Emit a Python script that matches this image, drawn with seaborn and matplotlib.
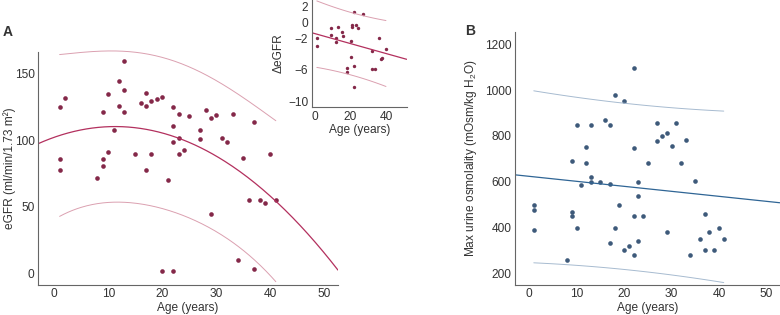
import numpy as np
import pandas as pd
import matplotlib
matplotlib.use("Agg")
import matplotlib.pyplot as plt
import seaborn as sns

# panel A: eGFR vs age
age_a = [1, 1, 1, 2, 8, 9, 9, 9, 10, 10, 11, 12, 12, 13, 13, 13, 15, 16, 17, 17, 17,
         18, 18, 19, 20, 20, 21, 22, 22, 22, 22, 23, 23, 23, 24, 25, 27, 27, 28, 29,
         29, 30, 31, 32, 33, 34, 35, 36, 37, 37, 38, 39, 40, 41]
egfr = [125, 86, 78, 132, 72, 121, 86, 81, 135, 91, 108, 145, 126, 160, 138, 121, 90,
        128, 136, 126, 78, 130, 90, 131, 133, 2, 70, 125, 111, 99, 2, 120, 102, 90,
        93, 118, 108, 101, 123, 117, 45, 119, 102, 99, 120, 10, 87, 55, 114, 3, 55,
        53, 90, 55]

# inset: change in eGFR
age_d = [1, 1, 9, 9, 12, 12, 13, 15, 16, 18, 18, 20, 20, 21, 21, 22, 22, 22, 23, 24,
         27, 32, 32, 34, 36, 37, 38, 40]
d_egfr = [-1.9, -2.9, -1.6, -0.7, -1.9, -2.4, -0.6, -1.2, -1.7, -5.8, -6.3, -2.3, -4.3,
          -0.3, -0.6, 1.3, -5.5, -8.2, -0.3, -0.7, 1.1, -3.6, -5.9, -5.9, -2.0, -4.6,
          -4.5, -3.3]

# panel B: max urine osmolality
age_b = [1, 1, 1, 8, 9, 9, 9, 10, 10, 11, 12, 12, 13, 13, 13, 15, 16, 17, 17, 17, 18,
         18, 19, 20, 20, 21, 22, 22, 22, 22, 23, 23, 23, 24, 25, 27, 27, 28, 29, 29,
         30, 31, 32, 33, 34, 35, 36, 37, 37, 38, 39, 40, 41]
osmo = [500, 477, 389, 258, 690, 469, 450, 848, 399, 584, 753, 683, 849, 621, 600, 600,
        868, 849, 592, 331, 980, 398, 500, 955, 300, 321, 1097, 749, 450, 282, 600,
        538, 341, 449, 682, 858, 778, 798, 814, 379, 755, 858, 680, 781, 282, 602, 348,
        459, 302, 380, 302, 398, 348]

RED_PT, RED_LN, RED_BAND = "#842849", "#b3305e", "#dba0b0"
BLU_PT, BLU_LN, BLU_BAND = "#3e5a7a", "#2f6595", "#a7bbd0"
TXT = "#333333"
Z90 = 1.645  # 90% prediction interval


def fit_bands(x, y, order, x_line, x_band, t=Z90):
    x = np.asarray(x, float)
    y = np.asarray(y, float)
    X = np.vander(x, order + 1)
    coef, *_ = np.linalg.lstsq(X, y, rcond=None)
    resid = y - X @ coef
    s = np.sqrt(resid @ resid / (len(x) - order - 1))
    xtx_inv = np.linalg.inv(X.T @ X)
    Xb = np.vander(x_band, order + 1)
    h = np.einsum("ij,jk,ik->i", Xb, xtx_inv, Xb)
    yb = Xb @ coef
    half = t * s * np.sqrt(1 + h)
    return np.vander(x_line, order + 1) @ coef, yb - half, yb + half


def style(ax):
    sns.despine(ax=ax)
    for sp in ("left", "bottom"):
        ax.spines[sp].set_color("#666666")
        ax.spines[sp].set_linewidth(0.8)
    ax.tick_params(direction="in", length=3.5, width=0.8, color="#666666",
                   labelsize=8.6, labelcolor=TXT, pad=2.5)
    ax.xaxis.label.set_color(TXT)
    ax.yaxis.label.set_color(TXT)


sns.set_style("white")
plt.rcParams["font.family"] = ["Liberation Sans", "DejaVu Sans"]
plt.rcParams["mathtext.default"] = "regular"

fig = plt.figure(figsize=(7.8, 3.15), dpi=100)

# ---- panel A
ax = fig.add_axes([0.0487, 0.0952, 0.3846, 0.7397])
xlim_a = (-3, 52.5)
xl = np.linspace(*xlim_a, 200)
xb = np.linspace(min(age_a), max(age_a), 200)
yl, lo, hi = fit_bands(age_a, egfr, 2, xl, xb)
ax.plot(xl, yl, color=RED_LN, lw=0.9)
ax.plot(xb, lo, color=RED_BAND, lw=0.7, clip_on=False)
ax.plot(xb, hi, color=RED_BAND, lw=0.7, clip_on=False)
sns.scatterplot(x=age_a, y=egfr, ax=ax, color=RED_PT, s=11, linewidth=0)
ax.set_xlim(*xlim_a)
ax.set_ylim(-8.8, 166.5)
ax.set_xticks([0, 10, 20, 30, 40, 50])
ax.set_yticks([0, 50, 100, 150])
ax.set_xlabel("Age (years)", fontsize=8.6, labelpad=1)
ax.set_ylabel("eGFR (ml/min/1.73 m\u00b2)", fontsize=8.6)
ax.yaxis.set_label_coords(-0.074, 0.5)
style(ax)
fig.text(0.004, 0.898, "A", fontsize=10, fontweight="bold", color=TXT, va="center")

# ---- inset
axi = fig.add_axes([0.3996, 0.660, 0.1218, 0.3397])
xlim_i = (-1.9, 51.7)
xl = np.linspace(*xlim_i, 100)
xb = np.linspace(min(age_d), max(age_d), 100)
yl, lo, hi = fit_bands(age_d, d_egfr, 1, xl, xb)
axi.plot(xl, yl, color=RED_LN, lw=0.9)
axi.plot(xb, lo, color=RED_BAND, lw=0.7)
axi.plot(xb, hi, color=RED_BAND, lw=0.7)
sns.scatterplot(x=age_d, y=d_egfr, ax=axi, color=RED_PT, s=6, linewidth=0)
axi.set_xlim(*xlim_i)
axi.set_ylim(-10.7, 2.85)
axi.set_xticks([0, 20, 40])
axi.set_yticks([2, 0, -2, -6, -10])
axi.set_xlabel("Age (years)", fontsize=8.6, labelpad=1)
axi.set_ylabel("\u0394eGFR", fontsize=8.6)
axi.yaxis.set_label_coords(-0.29, 0.5)
axi.patch.set_alpha(0)
style(axi)

# ---- panel B
axb = fig.add_axes([0.660, 0.0952, 0.3397, 0.803])
xlim_b = (-3, 52.8)
xl = np.linspace(*xlim_b, 100)
xb = np.linspace(min(age_b), max(age_b), 100)
yl, lo, hi = fit_bands(age_b, osmo, 1, xl, xb)
axb.plot(xl, yl, color=BLU_LN, lw=0.9)
axb.plot(xb, lo, color=BLU_BAND, lw=0.7)
axb.plot(xb, hi, color=BLU_BAND, lw=0.7)
sns.scatterplot(x=age_b, y=osmo, ax=axb, color=BLU_PT, s=11, linewidth=0)
axb.set_xlim(*xlim_b)
axb.set_ylim(149, 1254)
axb.set_xticks([0, 10, 20, 30, 40, 50])
axb.set_yticks([200, 400, 600, 800, 1000, 1200])
axb.set_xlabel("Age (years)", fontsize=8.6, labelpad=1)
axb.set_ylabel("Max urine osmolality (mOsm/kg H$_2$O)", fontsize=8.6)
axb.yaxis.set_label_coords(-0.135, 0.5)
style(axb)
fig.text(0.596, 0.902, "B", fontsize=10, fontweight="bold", color=TXT, va="center")

fig.savefig("out.png", dpi=100)
